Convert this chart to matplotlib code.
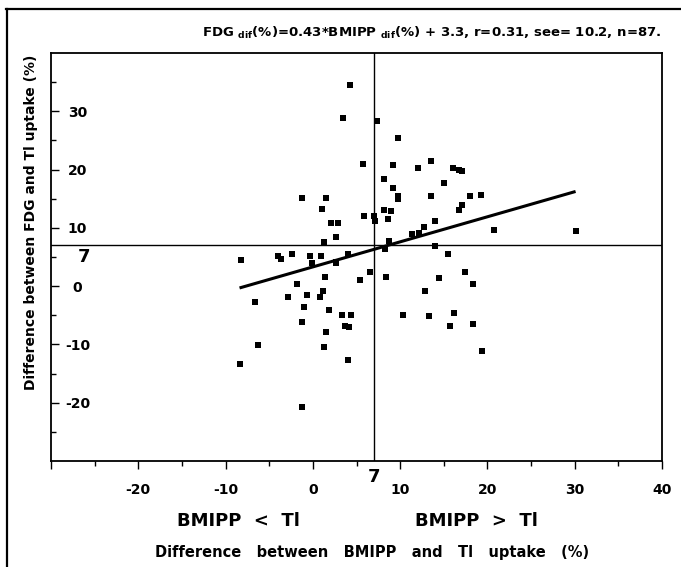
#!/usr/bin/env python3
"""
Scanned-style scatter: FDG vs BMIPP uptake differences with regression line.
"""

import matplotlib

matplotlib.use("Agg")
import matplotlib.pyplot as plt
import matplotlib.transforms as mtransforms
from matplotlib.lines import Line2D
import numpy as np


# Values
BMIPP_DIF = [
    -8.2, -4.0, -3.6, -2.4, -0.3, -0.1, 0.9, 1.3, 2.6, 2.6,
    2.1, 2.9, 1.0, 1.5, -1.3, 4.0, 3.4, 4.2, 5.8, 5.9,
    7.0, 7.1, 7.3, 8.1, 8.2, 8.9, 8.6, 9.2, 9.2, 9.8,
    9.8, 12.0, 11.4, 8.7, 8.3, 13.5, 13.5, 15.0, 16.1, 16.8,
    17.1, 17.1, 16.8, 18.0, 19.3, 14.0, 12.7, 12.2, 20.7, 30.1,
    14.0, 15.5, 6.5, 5.4, 8.4, 1.4, -1.8, 1.2, -0.7, -2.8,
    0.8, -6.6, -1.0, 1.8, 3.3, 4.4, 10.3, -1.3, 3.7, 4.1,
    1.5, -6.3, 1.3, 4.0, -8.4, -1.2, 17.4, 14.5, 18.4, 12.9,
    13.3, 16.2, 15.7, 18.3, 19.4, 9.7, 2.7,
]
FDG_DIF = [
    4.5, 5.1, 4.6, 5.5, 5.1, 3.9, 5.2, 7.5, 3.9, 8.4,
    10.9, 10.9, 13.3, 15.2, 15.1, 5.5, 28.9, 34.5, 20.9, 12.1,
    12.1, 11.2, 28.4, 18.4, 13.0, 12.9, 11.5, 20.7, 16.8, 25.4,
    15.0, 20.3, 9.0, 7.7, 6.4, 21.5, 15.4, 17.7, 20.3, 20.0,
    19.8, 14.0, 13.1, 15.4, 15.7, 11.2, 10.2, 9.1, 9.7, 9.4,
    6.9, 5.5, 2.5, 1.1, 1.5, 1.5, 0.4, -0.8, -1.5, -1.9,
    -1.9, -2.7, -3.6, -4.1, -5.0, -5.0, -5.0, -6.2, -6.9, -7.0,
    -7.9, -10.1, -10.5, -12.6, -13.3, -20.8, 2.4, 1.4, 0.3, -0.8,
    -5.1, -4.6, -6.8, -6.5, -11.1, 15.5, 4.1,
]

SLOPE = 0.43
INTERCEPT = 3.3
FIT_X = [-8.4, 30.1]
CUT = 7

X_MAJOR = [-30, -20, -10, 0, 10, 20, 30, 40]
X_LABELS = ["", "-20", "-10", "0", "10", "20", "30", "40"]
X_MINOR = [-25, -15, -5, 5, 15, 25, 35]
Y_MAJOR = [-20, -10, 0, 10, 20, 30]
Y_LABELS = ["-20", "-10", "0", "10", "20", "30"]
Y_MINOR = [-25, -15, -5, 5, 15, 25, 35]

EQUATION = (r"FDG $_{\mathbf{dif}}$(%)=0.43*BMIPP $_{\mathbf{dif}}$(%)"
            r" + 3.3, r=0.31, see= 10.2, n=87.")

W, H = 681, 567


def fx(px):
    return px / W


def fy(py):
    return 1 - py / H


def main() -> None:
    plt.rcParams["font.family"] = "DejaVu Sans"
    plt.rcParams["font.weight"] = "bold"
    plt.rcParams["mathtext.fontset"] = "dejavusans"

    fig = plt.figure(figsize=(W / 100, H / 100), dpi=100)
    fig.patch.set_facecolor("white")

    # scanned page frame (top and left edges only)
    fig.add_artist(Line2D([fx(6), fx(681)], [fy(8.5), fy(8.5)], color="black", lw=1.6))
    fig.add_artist(Line2D([fx(6.5), fx(6.5)], [fy(8.5), fy(567)], color="black", lw=1.6))

    ax = fig.add_axes([fx(51), fy(461), (662 - 51) / W, (461 - 53) / H])
    ax.set_xlim(-30, 40)
    ax.set_ylim(-30, 40)
    for sp in ax.spines.values():
        sp.set_linewidth(1.3)

    ax.axvline(CUT, color="black", lw=1.0)
    ax.axhline(CUT, color="black", lw=1.0)

    ax.scatter(BMIPP_DIF, FDG_DIF, marker="s", s=14, color="black", linewidths=0, zorder=3)
    fit_x = np.array(FIT_X)
    ax.plot(fit_x, SLOPE * fit_x + INTERCEPT, color="black", lw=2.2, solid_capstyle="butt")

    ax.set_xticks(X_MAJOR)
    ax.set_xticklabels(X_LABELS)
    ax.set_xticks(X_MINOR, minor=True)
    ax.set_yticks(Y_MAJOR)
    ax.set_yticklabels(Y_LABELS)
    ax.set_yticks(Y_MINOR, minor=True)

    ax.tick_params(axis="x", which="major", direction="out", length=6, width=1.0,
                   pad=10, labelsize=10)
    ax.tick_params(axis="x", which="minor", direction="out", length=3.5, width=1.0)
    ax.tick_params(axis="y", which="major", direction="in", length=6, width=1.0,
                   pad=-19, labelsize=10)
    ax.tick_params(axis="y", which="minor", direction="in", length=3.5, width=1.0)
    for lab in ax.get_yticklabels():
        lab.set_horizontalalignment("center")

    # the "7" cut-off labels
    px_off = mtransforms.offset_copy
    ax.text(CUT, -30, "7", transform=px_off(ax.transData, fig=fig, x=0, y=-7, units="dots"),
            ha="center", va="top", fontsize=13)
    ax.text(0, CUT, "7", transform=px_off(
        mtransforms.blended_transform_factory(ax.transAxes, ax.transData),
        fig=fig, x=33, y=-3, units="dots"),
        ha="center", va="top", fontsize=13)

    fig.text(fx(661), fy(33), EQUATION, ha="right", va="center", fontsize=9.5)
    fig.text(fx(238), fy(521), "BMIPP  <  Tl", ha="center", va="center", fontsize=13)
    fig.text(fx(476), fy(521), "BMIPP  >  Tl", ha="center", va="center", fontsize=13)
    fig.text(fx(372), fy(552), "Difference   between   BMIPP   and   Tl   uptake   (%)",
             ha="center", va="center", fontsize=10.5)
    fig.text(fx(31), fy(222), "Difference between FDG and Tl uptake (%)",
             ha="center", va="center", rotation=90, fontsize=10)

    fig.savefig("out.png", dpi=100, facecolor="white")
    plt.close(fig)


if __name__ == "__main__":
    main()
